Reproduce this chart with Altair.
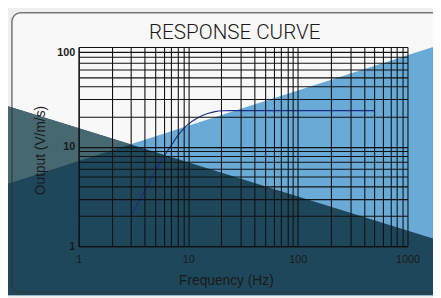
import altair as alt
import pandas as pd

# ---- response curve data ----
freq_hz = [3, 4, 5, 6, 7, 8, 9, 10, 12, 15, 18, 20, 25, 30, 50, 100, 200, 500]
output_vms = [2.0, 3.6, 5.6, 8.0, 10.3, 12.8, 15.0, 16.8, 19.3, 21.5, 22.6, 22.9,
              23.0, 23.0, 23.0, 23.0, 23.0, 23.0]

# ---- axis grid / labels ----
x_grid = [1, 2, 3, 4, 5, 6, 7, 8, 9, 10, 20, 30, 40, 50, 60, 70, 80, 90,
          100, 200, 300, 400, 500, 600, 700, 800, 900, 1000]
y_grid = [1, 2, 3, 4, 5, 6, 7, 8, 9, 10, 20, 30, 40, 50, 60, 70, 80, 90, 100]
x_labels = [1, 10, 100, 1000]
y_labels = [1, 10, 100]
chart_title = ["RESPONSE CURVE"]

# ---- decorative background shapes (page pixel units) ----
card_box = [12, 10, 470, 295]          # x, y, x2, y2
blue_x = [0, 441]
blue_top = [187, 45]
dark_x = [0, 441]
dark_top = [103, 240]
haze_x = [0, 133]
haze_top = [103, 144]
haze_bottom = [187, 144]
page_bottom = 298
title_pos = [239, 37]                  # centre x, baseline y

PAD_L, PAD_T, W, H = 72, 37, 335, 203
page_x = alt.Scale(domain=[0, 441], range=[-(PAD_L + 8), 441 - (PAD_L + 8)])
page_y = alt.Scale(domain=[0, 298], range=[-(PAD_T + 8), 298 - (PAD_T + 8)])

card_df = pd.DataFrame({"x": [card_box[0]], "y": [card_box[1]],
                        "x2": [card_box[2]], "y2": [card_box[3]]})
blue_df = pd.DataFrame({"x": blue_x, "top": blue_top, "bottom": [page_bottom] * 2})
dark_df = pd.DataFrame({"x": dark_x, "top": dark_top, "bottom": [page_bottom] * 2})
haze_df = pd.DataFrame({"x": haze_x, "top": haze_top, "bottom": haze_bottom})
title_df = pd.DataFrame({"x": [title_pos[0]], "y": [title_pos[1]], "t": chart_title})

def rect_layer(df, **mark):
    return alt.Chart(df).mark_rect(clip=False, **mark).encode(
        x=alt.X("x:Q", scale=page_x, axis=None),
        x2="x2:Q",
        y=alt.Y("y:Q", scale=page_y, axis=None),
        y2="y2:Q",
    )

def area_layer(df, color):
    return alt.Chart(df).mark_area(clip=False, color=color, opacity=1).encode(
        x=alt.X("x:Q", scale=page_x, axis=None),
        y=alt.Y("top:Q", scale=page_y, axis=None),
        y2="bottom:Q",
    )

card = rect_layer(card_df, fill="#f8f8f8", cornerRadius=9)
blue = area_layer(blue_df, "#6aaad6")
dark = area_layer(dark_df, "#1f475b")
haze = area_layer(haze_df, "#466870")
border = rect_layer(card_df, fill="transparent", stroke="#333333",
                    strokeOpacity=0.65, strokeWidth=1.5, cornerRadius=9)
title = alt.Chart(title_df).mark_text(
    font="Roboto", fontWeight=300, fontSize=21, color="#1a1a1a",
    align="center", baseline="alphabetic", clip=False
).encode(
    x=alt.X("x:Q", scale=page_x, axis=None),
    y=alt.Y("y:Q", scale=page_y, axis=None),
    text="t:N",
)

curve_df = pd.DataFrame({"freq": freq_hz, "out": output_vms})

x_label_expr = "indexof(%s, datum.value) >= 0 ? format(datum.value, 'd') : ''" % str(x_labels)
y_label_expr = "indexof(%s, datum.value) >= 0 ? format(datum.value, 'd') : ''" % str(y_labels)

curve = alt.Chart(curve_df).mark_line(
    color="#1c2c8c", strokeWidth=1.2, interpolate="monotone", clip=True
).encode(
    x=alt.X("freq:Q", scale=alt.Scale(type="log", domain=[1, 1000]),
            axis=alt.Axis(values=x_grid, grid=True, gridColor="#111111", gridWidth=1.1,
                          gridOpacity=1, ticks=False, domain=True, domainColor="#111111",
                          domainWidth=1.2, labelExpr=x_label_expr, labelOverlap=False,
                          labelFlush=False, labelBound=False, labelPadding=8,
                          labelFont="Liberation Sans", labelFontSize=11, labelColor="#1a1a1a",
                          title="Frequency (Hz)", titleFont="Liberation Sans",
                          titleFontSize=14, titleFontWeight="normal", titleColor="#1a1a1a",
                          titleX=150, titleY=39, titleAlign="center",
                          titleBaseline="alphabetic", zindex=1)),
    y=alt.Y("out:Q", scale=alt.Scale(type="log", domain=[1, 100]),
            axis=alt.Axis(values=y_grid, grid=True, gridColor="#111111", gridWidth=1.1,
                          gridOpacity=1, ticks=False, domain=True, domainColor="#111111",
                          domainWidth=1.2, labelExpr=y_label_expr, labelOverlap=False,
                          labelFlush=False, labelBound=False, labelPadding=4,
                          labelBaseline={"expr": "datum.value == 100 ? 'top' : 'middle'"},
                          labelFont="Liberation Sans", labelFontSize=11, labelFontWeight="bold",
                          labelColor="#1a1a1a",
                          title="Output (V/m/s)", titleFont="Liberation Sans",
                          titleFontSize=14, titleFontWeight="normal", titleColor="#1a1a1a",
                          titleX=-35, titleY=105, titleAlign="center",
                          titleBaseline="alphabetic", titleAngle=270, zindex=1)),
)

chart = alt.layer(card, blue, dark, haze, border, title, curve).resolve_scale(
    x="independent", y="independent"
).properties(
    width=W, height=H,
    autosize=alt.AutoSizeParams(type="none"),
    padding={"left": PAD_L, "top": PAD_T, "right": 433 - PAD_L - W, "bottom": 290 - PAD_T - H},
    background="#efefef",
).configure_view(stroke=None)

chart.save("out.html", embed_options={"renderer": "svg", "actions": False})
